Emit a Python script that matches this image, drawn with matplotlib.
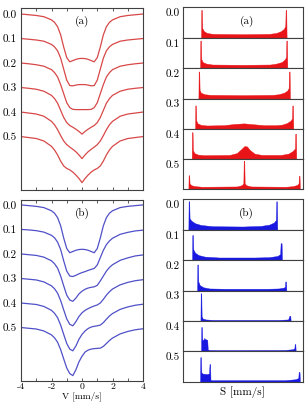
import matplotlib
matplotlib.use("Agg")
import matplotlib.pyplot as plt
import numpy as np

plt.rcParams['font.family'] = ['cmr10', 'DejaVu Serif']
plt.rcParams['axes.unicode_minus'] = False
plt.rcParams['axes.formatter.use_mathtext'] = True

# velocity grid of the spectra [mm/s]
V = [-4, -3.5, -3, -2.5, -2, -1.8, -1.6, -1.4, -1.2, -1.0, -0.8, -0.6, -0.4, -0.2, 0,
     0.2, 0.4, 0.6, 0.8, 1.0, 1.2, 1.4, 1.6, 1.8, 2, 2.5, 3, 3.5, 4]
offsets = [0.0, 0.1, 0.2, 0.3, 0.4, 0.5]
offset_labels = ['0.0', '0.1', '0.2', '0.3', '0.4', '0.5']

# absorption depth of each spectrum, panel (a)
dip_a0 = [0, 0.003, 0.006, 0.011, 0.024, 0.034, 0.052, 0.085, 0.135, 0.178, 0.195, 0.19, 0.185, 0.182, 0.181,
          0.182, 0.185, 0.19, 0.195, 0.178, 0.135, 0.085, 0.052, 0.034, 0.024, 0.011, 0.006, 0.003, 0]
dip_a1 = [0, 0.003, 0.006, 0.011, 0.024, 0.034, 0.05, 0.08, 0.125, 0.17, 0.192, 0.193, 0.19, 0.188, 0.188,
          0.188, 0.19, 0.193, 0.192, 0.17, 0.125, 0.08, 0.05, 0.034, 0.024, 0.011, 0.006, 0.003, 0]
dip_a2 = [0, 0.003, 0.007, 0.013, 0.027, 0.039, 0.057, 0.088, 0.125, 0.162, 0.182, 0.189, 0.19, 0.19, 0.19,
          0.19, 0.19, 0.189, 0.182, 0.162, 0.125, 0.088, 0.057, 0.039, 0.027, 0.013, 0.007, 0.003, 0]
dip_a3 = [0, 0.003, 0.007, 0.015, 0.032, 0.045, 0.064, 0.093, 0.122, 0.143, 0.155, 0.162, 0.17, 0.179, 0.19,
          0.179, 0.17, 0.162, 0.155, 0.143, 0.122, 0.093, 0.064, 0.045, 0.032, 0.015, 0.007, 0.003, 0]
dip_a4 = [0, 0.004, 0.008, 0.017, 0.038, 0.052, 0.072, 0.096, 0.118, 0.133, 0.143, 0.152, 0.162, 0.175, 0.19,
          0.175, 0.162, 0.152, 0.143, 0.133, 0.118, 0.096, 0.072, 0.052, 0.038, 0.017, 0.008, 0.004, 0]
dip_a5 = [0, 0.004, 0.008, 0.018, 0.04, 0.055, 0.075, 0.1, 0.12, 0.13, 0.136, 0.145, 0.157, 0.171, 0.188,
          0.171, 0.157, 0.145, 0.136, 0.13, 0.12, 0.1, 0.075, 0.055, 0.04, 0.018, 0.008, 0.004, 0]

# panel (b)
dip_b0 = list(dip_a0)
dip_b1 = [0, 0.002, 0.005, 0.011, 0.024, 0.034, 0.052, 0.082, 0.128, 0.17, 0.19, 0.192, 0.187, 0.181, 0.176,
          0.172, 0.167, 0.163, 0.159, 0.145, 0.115, 0.085, 0.062, 0.047, 0.036, 0.02, 0.012, 0.006, 0.003]
dip_b2 = [0, 0.003, 0.006, 0.013, 0.028, 0.04, 0.058, 0.09, 0.13, 0.168, 0.188, 0.193, 0.18, 0.163, 0.152,
          0.144, 0.139, 0.136, 0.134, 0.128, 0.11, 0.09, 0.07, 0.055, 0.044, 0.026, 0.016, 0.008, 0.004]
dip_b3 = [0, 0.003, 0.006, 0.014, 0.03, 0.042, 0.06, 0.09, 0.128, 0.165, 0.187, 0.193, 0.176, 0.155, 0.14,
          0.13, 0.123, 0.117, 0.112, 0.108, 0.1, 0.085, 0.068, 0.054, 0.043, 0.026, 0.016, 0.009, 0.005]
dip_b4 = [0, 0.003, 0.006, 0.014, 0.03, 0.042, 0.06, 0.09, 0.128, 0.165, 0.188, 0.195, 0.175, 0.148, 0.128,
          0.114, 0.104, 0.098, 0.095, 0.093, 0.09, 0.08, 0.066, 0.053, 0.043, 0.026, 0.016, 0.009, 0.005]
dip_b5 = [0, 0.003, 0.006, 0.014, 0.03, 0.042, 0.06, 0.09, 0.128, 0.165, 0.188, 0.196, 0.172, 0.14, 0.117,
          0.1, 0.092, 0.088, 0.086, 0.085, 0.084, 0.077, 0.065, 0.053, 0.043, 0.026, 0.016, 0.009, 0.005]

dips_a = [dip_a0, dip_a1, dip_a2, dip_a3, dip_a4, dip_a5]
dips_b = [dip_b0, dip_b1, dip_b2, dip_b3, dip_b4, dip_b5]

# hyperfine field distributions P(S), outline points (S scaled 0..1)
hist_a_x = [
    [0.151, 0.153, 0.158, 0.161, 0.175, 0.2, 0.25, 0.5, 0.72, 0.78, 0.82, 0.845, 0.856, 0.859, 0.864, 0.867],
    [0.143, 0.145, 0.15, 0.153, 0.165, 0.195, 0.245, 0.5, 0.73, 0.78, 0.825, 0.85, 0.862, 0.865, 0.870, 0.873],
    [0.129, 0.131, 0.136, 0.139, 0.15, 0.18, 0.23, 0.5, 0.75, 0.8, 0.845, 0.872, 0.884, 0.887, 0.892, 0.895],
    [0.101, 0.103, 0.108, 0.111, 0.122, 0.15, 0.2, 0.34, 0.43, 0.51, 0.59, 0.68, 0.78, 0.83, 0.87, 0.9,
     0.912, 0.915, 0.920, 0.923],
    [0.073, 0.075, 0.080, 0.083, 0.095, 0.125, 0.18, 0.39, 0.45, 0.49, 0.513, 0.535, 0.56, 0.6, 0.66, 0.82,
     0.88, 0.915, 0.937, 0.940, 0.945, 0.948],
    [0.045, 0.047, 0.052, 0.055, 0.07, 0.1, 0.16, 0.45, 0.49, 0.505, 0.508, 0.513, 0.516, 0.53, 0.57, 0.86,
     0.92, 0.955, 0.967, 0.970, 0.975, 0.978],
]
hist_a_h = [
    [0, 0.92, 0.92, 0.32, 0.22, 0.16, 0.13, 0.12, 0.13, 0.16, 0.22, 0.3, 0.4, 0.92, 0.92, 0],
    [0, 0.91, 0.91, 0.3, 0.2, 0.15, 0.12, 0.11, 0.12, 0.15, 0.2, 0.28, 0.36, 0.91, 0.91, 0],
    [0, 0.89, 0.89, 0.28, 0.19, 0.14, 0.12, 0.11, 0.12, 0.14, 0.19, 0.26, 0.34, 0.89, 0.89, 0],
    [0, 0.77, 0.77, 0.27, 0.18, 0.13, 0.11, 0.12, 0.16, 0.18, 0.15, 0.12, 0.12, 0.14, 0.19, 0.27,
     0.34, 0.77, 0.77, 0],
    [0, 0.89, 0.89, 0.3, 0.2, 0.15, 0.13, 0.14, 0.2, 0.34, 0.43, 0.42, 0.3, 0.18, 0.14, 0.14,
     0.18, 0.26, 0.35, 0.84, 0.84, 0],
    [0, 0.47, 0.47, 0.2, 0.14, 0.11, 0.09, 0.1, 0.14, 0.2, 0.95, 0.95, 0.2, 0.14, 0.1, 0.09,
     0.11, 0.15, 0.2, 0.45, 0.45, 0],
]
hist_b_x = [
    [0.045, 0.047, 0.052, 0.055, 0.07, 0.1, 0.15, 0.25, 0.5, 0.65, 0.72, 0.76, 0.777, 0.781, 0.786, 0.789],
    [0.076, 0.078, 0.083, 0.086, 0.1, 0.13, 0.18, 0.3, 0.6, 0.72, 0.79, 0.813, 0.817, 0.825, 0.828],
    [0.118, 0.12, 0.125, 0.128, 0.14, 0.17, 0.22, 0.35, 0.7, 0.8, 0.845, 0.853, 0.856, 0.862, 0.865],
    [0.146, 0.148, 0.153, 0.156, 0.165, 0.19, 0.25, 0.8, 0.88, 0.89, 0.898, 0.901],
    [0.151, 0.153, 0.158, 0.161, 0.17, 0.178, 0.185, 0.195, 0.203, 0.207, 0.22, 0.3, 0.85, 0.92, 0.932,
     0.935, 0.94, 0.943],
    [0.143, 0.145, 0.15, 0.153, 0.16, 0.2, 0.218, 0.222, 0.227, 0.23, 0.24, 0.3, 0.85, 0.94, 0.965,
     0.968, 0.975, 0.978],
]
hist_b_h = [
    [0, 0.94, 0.94, 0.38, 0.3, 0.22, 0.16, 0.12, 0.11, 0.13, 0.17, 0.24, 0.32, 0.94, 0.94, 0],
    [0, 0.83, 0.83, 0.36, 0.25, 0.17, 0.12, 0.09, 0.09, 0.1, 0.14, 0.2, 0.56, 0.56, 0],
    [0, 0.86, 0.86, 0.3, 0.18, 0.11, 0.07, 0.06, 0.06, 0.07, 0.1, 0.13, 0.3, 0.3, 0],
    [0, 0.91, 0.91, 0.15, 0.08, 0.05, 0.035, 0.035, 0.05, 0.17, 0.17, 0],
    [0, 0.8, 0.8, 0.38, 0.38, 0.44, 0.4, 0.39, 0.38, 0.06, 0.045, 0.04, 0.045, 0.07, 0.1, 0.24, 0.24, 0],
    [0, 0.81, 0.81, 0.32, 0.27, 0.25, 0.27, 0.58, 0.58, 0.06, 0.05, 0.05, 0.05, 0.08, 0.12, 0.32, 0.32, 0],
]

RED_LINE = '#d84848'
BLUE_LINE = '#5050c8'
RED_FILL = '#e81418'
BLUE_FILL = '#1818e0'
FRAME = '#404040'
FS = 8

W, H = 307, 403
fig = plt.figure(figsize=(W / 100, H / 100), dpi=100)


def rect(x0, y0, x1, y1):
    return [x0 / W, 1 - y1 / H, (x1 - x0) / W, (y1 - y0) / H]


def frame(ax):
    for s in ax.spines.values():
        s.set_color(FRAME)
        s.set_linewidth(0.8)


def spectra_panel(y0, y1, dips, color, tag, bottom_labels, ylim):
    ax = fig.add_axes(rect(21, y0, 143, y1))
    for off, d in zip(offsets, dips):
        ax.plot(V, off + np.array(d), color=color, lw=0.9)
    ax.set_xlim(-4, 4)
    ax.set_ylim(*ylim)
    ax.set_xticks(range(-4, 5))
    if bottom_labels:
        ax.set_xticklabels(['-4', '', '-2', '', '0', '', '2', '', '4'], fontsize=7)
        ax.set_xlabel('V [mm/s]', fontsize=6.8, labelpad=0.3)
    else:
        ax.set_xticklabels([])
    ax.tick_params(axis='x', direction='in', top=True, length=2.5, width=0.6,
                   color=FRAME, pad=0.8)
    ax.set_yticks(offsets)
    ax.set_yticklabels(offset_labels, fontsize=FS)
    ax.tick_params(axis='y', length=0, pad=3)
    ax.text(0.5, 0.925, tag, transform=ax.transAxes, ha='center', va='center', fontsize=FS)
    frame(ax)
    return ax


spectra_panel(8, 190, dips_a, RED_LINE, '(a)', False, (0.718, -0.0245))
spectra_panel(199.5, 381, dips_b, BLUE_LINE, '(b)', True, (0.718, -0.022))


def dist_panel(y0, y1, xs, hs, color, tag, tag_y):
    step = (y1 - y0) / 6
    axes = []
    for i in range(6):
        ax = fig.add_axes(rect(183, y0 + i * step, 302.5, y0 + (i + 1) * step))
        ax.fill_between(xs[i], hs[i], 0, color=color, lw=0.3, edgecolor=color)
        ax.set_xlim(0, 1)
        ax.set_ylim(0, 1)
        ax.set_xticks([])
        ax.set_yticks([])
        ax.text(-0.03, 0.8, offset_labels[i], transform=ax.transAxes, ha='right',
                va='center', fontsize=FS)
        frame(ax)
        axes.append(ax)
    axes[0].text(0.533, tag_y, tag, transform=axes[0].transAxes, ha='center',
                 va='center', fontsize=FS)
    return axes


dist_panel(7.5, 189.5, hist_a_x, hist_a_h, RED_FILL, '(a)', 0.53)
axes_b = dist_panel(199.5, 381.7, hist_b_x, hist_b_h, BLUE_FILL, '(b)', 0.55)
axes_b[-1].set_xlabel('S [mm/s]', fontsize=FS, labelpad=3)

fig.savefig('out.png', dpi=100)
